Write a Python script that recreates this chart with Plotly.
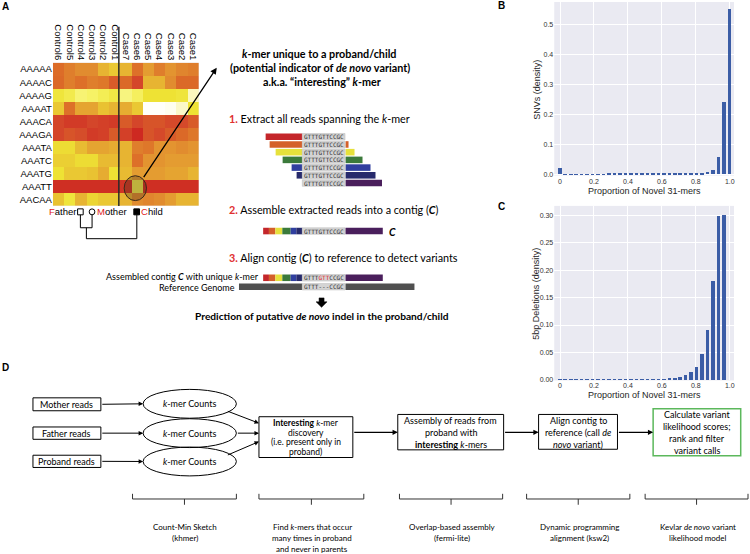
import plotly.graph_objects as go

W, H = 750, 554
def X(px): return px / W
def Y(py): return 1 - py / H

SANS = "Lato, 'Open Sans', sans-serif"
ARIAL = "'Liberation Sans', Arial, sans-serif"
MONO = "'DejaVu Sans Mono', monospace"

# ---------------- Panel A data ----------------
samples = ["Control6", "Control5", "Control4", "Control3", "Control2", "Control1",
           "Case7", "Case6", "Case5", "Case4", "Case3", "Case2", "Case1"]
kmers = ["AAAAA", "AAAAC", "AAAAG", "AAAAT", "AAACA", "AAAGA",
         "AAATA", "AAATC", "AAATG", "AAATT", "AACAA"]
abundance = [
    [0.75, 0.70, 0.66, 0.66, 0.56, 0.50, 0.56, 0.74, 0.62, 0.70, 0.64, 0.68, 0.70],
    [0.76, 0.70, 0.74, 0.70, 0.72, 0.80, 0.76, 0.86, 0.56, 0.56, 0.66, 0.76, 0.76],
    [0.40, 0.36, 0.28, 0.30, 0.34, 0.38, 0.26, 0.32, 0.42, 0.42, 0.42, 0.40, 0.16],
    [0.50, 0.74, 0.60, 0.60, 0.52, 0.56, 0.58, 0.50, 0.00, 0.00, 0.03, 0.14, 0.42],
    [0.86, 0.90, 0.90, 0.86, 0.88, 0.90, 0.80, 0.86, 0.82, 0.82, 0.85, 0.85, 0.80],
    [0.86, 0.82, 0.84, 0.90, 0.88, 0.80, 0.88, 0.96, 0.82, 0.85, 0.80, 0.76, 0.72],
    [0.44, 0.44, 0.54, 0.60, 0.60, 0.58, 0.56, 0.70, 0.72, 0.64, 0.64, 0.66, 0.64],
    [0.48, 0.48, 0.44, 0.44, 0.54, 0.54, 0.56, 0.74, 0.64, 0.64, 0.62, 0.62, 0.62],
    [0.42, 0.50, 0.50, 0.52, 0.58, 0.42, 0.54, 0.62, 0.62, 0.62, 0.60, 0.60, 0.56],
    [0.94, 0.94, 0.94, 0.94, 0.94, 0.94, 0.92, 0.36, 0.94, 0.94, 0.94, 0.94, 0.94],
    [0.52, 0.40, 0.56, 0.46, 0.50, 0.50, 0.56, 0.66, 0.68, 0.66, 0.62, 0.56, 0.56],
]
heat_scale = [[0.0, "#fffffa"], [0.15, "#fbf8c4"], [0.30, "#f6f266"], [0.42, "#eee234"],
              [0.55, "#e8b832"], [0.65, "#e29030"], [0.75, "#dc6c28"], [0.86, "#d4462a"],
              [1.0, "#cc1e1e"]]

kmer_seq = "GTTTGTTCCGC"
ref_seq = "GTTT---CCGC"
read_colors = ["#c4262a", "#d4602a", "#e6e13c", "#3b7a3b", "#303f9f", "#272a6c", "#4a1f5c"]

# ---------------- Panels B / C data ----------------
novel_31mers = list(range(32))
proportion = [k / 31 for k in novel_31mers]
snv_density = [0.022, 0.0008, 0.0008, 0.0008, 0.0009, 0.0009, 0.0010, 0.0010,
               0.0011, 0.0012, 0.0013, 0.0014, 0.0015, 0.0016, 0.0018, 0.0020,
               0.0022, 0.0024, 0.0026, 0.0028, 0.0030, 0.0033, 0.0036, 0.0040,
               0.0045, 0.0050, 0.0060, 0.0080, 0.0140, 0.0570, 0.2400, 0.5500]
del_density = [0.0005, 0.0002, 0.0002, 0.0002, 0.0002, 0.0002, 0.0002, 0.0002,
               0.0002, 0.0003, 0.0003, 0.0003, 0.0003, 0.0004, 0.0004, 0.0005,
               0.0006, 0.0008, 0.0010, 0.0015, 0.0020, 0.0030, 0.0045, 0.0080,
               0.0135, 0.0235, 0.0470, 0.0920, 0.1810, 0.2990, 0.3020, 0.0]
prop_ticks = [0, 0.2, 0.4, 0.6, 0.8, 1.0]
prop_ticktext = ["0", "0.2", "0.4", "0.6", "0.8", "1.0"]
snv_ticks = [0.0, 0.1, 0.2, 0.3, 0.4, 0.5]
del_ticks = [0.0, 0.05, 0.10, 0.15, 0.20, 0.25, 0.30]

# ---------------- Panel D text ----------------
input_reads = ["Mother reads", "Father reads", "Proband reads"]
counts_label = "<i>k</i>-mer Counts"
tools = [["Count-Min Sketch", "(khmer)"],
         ["Find <i>k</i>-mers that occur", "many times in proband", "and never in parents"],
         ["Overlap-based assembly", "(fermi-lite)"],
         ["Dynamic programming", "alignment (ksw2)"],
         ["Kevlar <i>de novo</i> variant", "likelihood model"]]

fig = go.Figure()

fig.add_trace(go.Heatmap(z=abundance, x=samples, y=kmers, colorscale=heat_scale,
                         zmin=0, zmax=1, showscale=False, xaxis="x", yaxis="y",
                         hoverinfo="skip"))
BAR = "#3b5da6"
fig.add_trace(go.Bar(x=proportion, y=snv_density, marker=dict(color=BAR, line=dict(width=0)),
                     width=0.021, xaxis="x2", yaxis="y2"))
fig.add_trace(go.Bar(x=proportion, y=del_density, marker=dict(color=BAR, line=dict(width=0)),
                     width=0.021, xaxis="x3", yaxis="y3"))

shapes = []
ann = []

def txt(x, y, s, size=9, color="black", xa="center", family=SANS, ya="middle", angle=0):
    ann.append(dict(x=X(x), y=Y(y), xref="paper", yref="paper", text=s, showarrow=False,
                    font=dict(size=size, color=color, family=family), xanchor=xa,
                    yanchor=ya, textangle=angle, borderpad=0))

def rect(x0, y0, x1, y1, fill="white", lc="black", lw=0, layer="above"):
    shapes.append(dict(type="rect", xref="paper", yref="paper", x0=X(x0), x1=X(x1),
                       y0=Y(y1), y1=Y(y0), fillcolor=fill,
                       line=dict(color=lc, width=lw), layer=layer))

def ellipse(x0, y0, x1, y1, fill="white", lc="black", lw=1):
    shapes.append(dict(type="circle", xref="paper", yref="paper", x0=X(x0), x1=X(x1),
                       y0=Y(y1), y1=Y(y0), fillcolor=fill, line=dict(color=lc, width=lw)))

def line(x0, y0, x1, y1, color="black", w=1):
    shapes.append(dict(type="line", xref="paper", yref="paper", x0=X(x0), x1=X(x1),
                       y0=Y(y0), y1=Y(y1), line=dict(color=color, width=w)))

def path(pts, fill=None, color="black", w=1, close=False):
    d = "M " + " L ".join(f"{X(a):.5f},{Y(b):.5f}" for a, b in pts) + (" Z" if close else "")
    shapes.append(dict(type="path", xref="paper", yref="paper", path=d,
                       fillcolor=fill if fill else "rgba(0,0,0,0)",
                       line=dict(color=color, width=w)))

def arrow(x0, y0, x1, y1, w=1, head=2, size=1.0):
    ann.append(dict(x=X(x1), y=Y(y1), ax=x0 - x1, ay=y0 - y1, xref="paper", yref="paper",
                    axref="pixel", ayref="pixel", text="", showarrow=True, arrowhead=head,
                    arrowsize=size, arrowwidth=w, arrowcolor="black", standoff=0))

# panel letters
for s, x, y in [("A", 6, 7), ("B", 502, 6), ("C", 502, 208), ("D", 6, 369)]:
    txt(x, y, f"<b>{s}</b>", size=10, family=ARIAL)

# ---- Panel A decorations ----
line(119, 27, 119, 207, "#2a2a2a", 1.5)
ellipse(124.3, 176.7, 146.7, 201.7, fill="rgba(70,50,30,0.3)", lc="#3a2a1a", lw=1)
arrow(143, 179, 217, 68, w=1.3, head=2, size=1.0)

# pedigree
txt(77, 213, "<span style='color:#e02020'>F</span>ather", size=9.5, xa="right", family=ARIAL)
rect(77.7, 210, 83.3, 216, fill="white", lw=1)
ellipse(89.3, 210, 95, 216, fill="white", lw=1)
txt(95.7, 213, "<span style='color:#e02020'>M</span>other", size=9.5, xa="left", family=ARIAL)
rect(134, 210, 139.7, 216, fill="black", lw=1)
txt(140.3, 213, "<span style='color:#e02020'>C</span>hild", size=9.5, xa="left", family=ARIAL)
path([(80.5, 216), (80.5, 229), (92.2, 229), (92.2, 216)])
line(86.5, 229, 86.5, 240)
line(137, 216, 137, 240)
line(86.5, 240, 137, 240)

# right-hand text of panel A
RED = "#e03030"
txt(320, 54, "<b><i>k</i>-mer unique to a proband/child</b>", size=10.8)
txt(320, 68, "<b>(potential indicator of <i>de novo</i> variant)</b>", size=10.8)
txt(322, 82, "<b>a.k.a. \u201cinteresting\u201d <i>k</i>-mer</b>", size=10.8)
txt(228, 119, f"<b><span style='color:{RED}'>1.</span></b> Extract all reads spanning the <i>k</i>-mer",
    size=10.8, xa="left")
txt(228, 210.5, f"<b><span style='color:{RED}'>2.</span></b> Assemble extracted reads into a contig (<b><i>C</i></b>)",
    size=10.8, xa="left")
txt(228, 259, f"<b><span style='color:{RED}'>3.</span></b> Align contig (<b><i>C</i></b>) to reference to detect variants",
    size=10.8, xa="left")

KL, KR = 302.7, 345.5
GRAY = "#d4d4d4"
read_start = [266, 270, 276, 283, 292, 297, 303]
read_end = [345, 349, 355, 363, 371, 376, 382.5]
for i, c in enumerate(read_colors):
    yc = 137.5 + i * 7.75
    if read_start[i] < KL:
        rect(read_start[i], yc - 3.3, KL, yc + 3.3, fill=c)
    if read_end[i] > KR + 0.5:
        rect(KR + 0.5, yc - 3.3, read_end[i], yc + 3.3, fill=c)
    rect(KL, yc - 3.3, KR, yc + 3.3, fill=GRAY, lc="#b8b8b8", lw=0.5)
    txt((KL + KR) / 2, yc, kmer_seq, size=6, family=MONO, color="#333")

contig_edges = [263.5, 269.3, 275.7, 282.7, 291, 296.7, KL]
def contig(yc, seq_html):
    for j, c in enumerate(read_colors[:6]):
        rect(contig_edges[j], yc - 3.3, contig_edges[j + 1], yc + 3.3, fill=c)
    rect(KL, yc - 3.3, KR, yc + 3.3, fill=GRAY, lc="#b8b8b8", lw=0.5)
    txt((KL + KR) / 2, yc, seq_html, size=6, family=MONO, color="#333")
    rect(KR + 0.5, yc - 3.3, 383.3, yc + 3.3, fill=read_colors[6])

contig(232.3, kmer_seq)
txt(389, 233, "<b><i>C</i></b>", size=10.5, xa="left")
contig(279.3, "GTTT<span style='color:#e03030'>GTT</span>CCGC")
txt(260.5, 278.5, "Assembled contig <b><i>C</i></b> with unique <i>k</i>-mer", size=9, xa="right")
rect(239.3, 285, KL, 291.5, fill="#505050")
rect(KL, 285, KR, 291.5, fill=GRAY, lc="#b8b8b8", lw=0.5)
rect(KR + 0.5, 285, 415, 291.5, fill="#505050")
txt((KL + KR) / 2, 288.3, ref_seq, size=6, family=MONO, color="#333")
txt(236.5, 289.3, "Reference Genome", size=9, xa="right")
path([(319.5, 299.5), (324.5, 299.5), (324.5, 303.5), (327.5, 303.5), (322, 309),
      (316.5, 303.5), (319.5, 303.5)], fill="black", close=True, w=0.5)
txt(322, 318, "<b>Prediction of putative <i>de novo</i> indel in the proband/child</b>", size=10.2)

# ---- Panels B/C axis titles ----
txt(645, 192, "Proportion of Novel 31-mers", size=9, family=ARIAL, color="#262626")
txt(645, 397, "Proportion of Novel 31-mers", size=9, family=ARIAL, color="#262626")
txt(537, 90, "SNVs (density)", size=9, family=ARIAL, color="#262626", angle=-90)
txt(537, 295, "5bp Deletions (density)", size=9, family=ARIAL, color="#262626", angle=-90)

# ---- Panel D ----
in_y = [(400, 413), (429.3, 441.7), (457.7, 470)]
ell_c = [406, 435.5, 464]
for (y0, y1), lab, ec in zip(in_y, input_reads, ell_c):
    rect(33, y0, 101, y1, fill="white", lw=1)
    txt(67, (y0 + y1) / 2, lab, size=9)
    arrow(101, (y0 + y1) / 2, 143.3, ec, w=1, head=2, size=0.9)
for ec in ell_c:
    ellipse(143.3, ec - 14.5, 236.7, ec + 14.5, fill="rgba(0,0,0,0)", lw=1)
for ec in ell_c:
    txt(190, ec, counts_label, size=9)

arrow(226.7, 413, 259.3, 425.5, w=1, head=2, size=0.9)
arrow(236.7, 435.5, 259.3, 435.5, w=1, head=2, size=0.9)
arrow(226.7, 458, 259.3, 444, w=1, head=2, size=0.9)

rect(259.3, 419, 353.3, 460, fill="white", lw=1)
for yy, s in zip([425.5, 435, 444.5, 454],
                 ["<b>Interesting</b> <i>k</i>-mer", "discovery", "(i.e. present only in", "proband)"]):
    txt(306.3, yy, s, size=8.5)

arrow(353.3, 434.7, 398.3, 434.7, w=1.3, head=2, size=0.8)
rect(398.3, 416.7, 504.3, 452.3, fill="white", lw=1)
for yy, s in zip([422.7, 434.7, 446.7],
                 ["Assembly of reads from", "proband with", "<b>interesting</b> <i>k</i>-mers"]):
    txt(451.3, yy, s, size=9)

arrow(504.3, 434.7, 539.3, 434.7, w=1.3, head=2, size=0.8)
rect(539.3, 416.7, 618.3, 451.7, fill="white", lw=1)
for yy, s in zip([422.7, 434.7, 446.7],
                 ["Align contig to", "reference (call <i>de</i>", "<i>novo</i> variant)"]):
    txt(578.8, yy, s, size=9)

arrow(618.3, 434.7, 654, 434.7, w=1.3, head=2, size=0.8)
rect(654, 411, 741.7, 458.3, fill="white", lc="#5cb85c", lw=1.5)
for yy, s in zip([416.7, 428.7, 440.7, 452.7],
                 ["Calculate variant", "likelihood scores;", "rank and filter", "variant calls"]):
    txt(697.8, yy, s, size=9)

braces = [(132.7, 236.7), (259.3, 364.3), (400, 503.3), (527.3, 630.7), (646, 749)]
for (bx0, bx1), lines_ in zip(braces, tools):
    bc = (bx0 + bx1) / 2
    path([(bx0, 496.5), (bx0, 501.7), (bx1, 501.7), (bx1, 496.5)], color="#333", w=1)
    line(bc, 501.7, bc, 507.5, "#333", 1)
    for k, s in enumerate(lines_):
        txt(bc + 1, 529.5 + k * 11.1, s, size=8)

ax_common = dict(showline=False, zeroline=False, ticks="", gridcolor="white", gridwidth=1,
                 tickfont=dict(size=7, color="#333", family=ARIAL))
fig.update_layout(
    width=W, height=H, margin=dict(l=0, r=0, t=0, b=0),
    paper_bgcolor="white", plot_bgcolor="#eaeaf2", showlegend=False, bargap=0,
    xaxis=dict(domain=[X(53), X(199)], anchor="y", side="top", tickangle=90,
               showgrid=False, zeroline=False, ticks="", showline=False,
               tickfont=dict(size=9.5, color="black", family=ARIAL)),
    yaxis=dict(domain=[Y(207), Y(63)], anchor="x", autorange="reversed",
               showgrid=False, zeroline=False, ticks="", showline=False,
               tickfont=dict(size=9.5, color="black", family=ARIAL)),
    xaxis2=dict(domain=[X(555), X(735)], anchor="y2", range=[-0.034, 1.025],
                tickvals=prop_ticks, ticktext=prop_ticktext, **ax_common),
    yaxis2=dict(domain=[Y(176.5), Y(2)], anchor="x2", range=[-0.004, 0.574],
                tickvals=snv_ticks, tickformat=".1f", **ax_common),
    xaxis3=dict(domain=[X(555), X(735)], anchor="y3", range=[-0.034, 1.025],
                tickvals=prop_ticks, ticktext=prop_ticktext, **ax_common),
    yaxis3=dict(domain=[Y(382.5), Y(207)], anchor="x3", range=[-0.0013, 0.3178],
                tickvals=del_ticks, tickformat=".2f", **ax_common),
    shapes=shapes, annotations=ann,
)

fig.write_html("out.html", config={"displayModeBar": False},
               post_script="document.body.style.margin='0px';document.body.style.overflow='hidden';")
